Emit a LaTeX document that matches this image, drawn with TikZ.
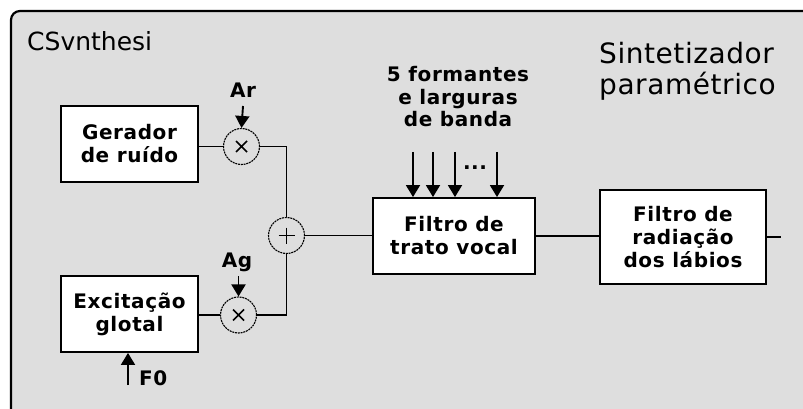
\documentclass[tikz,border=0pt]{standalone}
\usepackage{fontspec}
\setmainfont{DejaVu Sans}
\newfontfamily\lblfont{DejaVu Sans}[LetterSpace=3]
\newfontfamily\headfont{DejaVu Sans}[LetterSpace=2]
\usetikzlibrary{arrows.meta}
\definecolor{panelgray}{RGB}{222,222,222}

\begin{document}
\begin{tikzpicture}[x=1pt,y=-1pt,>={Triangle[length=12pt,width=14pt]},
  blk/.style={draw=black,line width=1.9pt,fill=white,align=center,font=\lblfont\fontsize{20}{23}\selectfont\bfseries,inner sep=0pt},
  op/.style={circle,draw=black,line width=1.1pt,dash pattern=on 2pt off 0.8pt,minimum size=36pt,inner sep=0pt},
  lbl/.style={align=center,font=\lblfont\fontsize{20}{23}\selectfont\bfseries,inner sep=0pt},
  wire/.style={line width=1.9pt}]
\useasboundingbox (0,0) rectangle (803,409);
\draw[line width=2.2pt,fill=panelgray,rounded corners=9pt] (11,11) rectangle (840,440);
\node[anchor=west,inner sep=0pt,font=\fontsize{25}{25}\selectfont] (title) at (27,41) {CSvnthesi};
\node[anchor=west,align=left,inner sep=0pt,font=\headfont\fontsize{28}{31}\selectfont] (synth) at (599,71) {Sintetizador\\paramétrico};
% blocks
\node[blk,minimum width=137pt,minimum height=76pt] (gen) at (129.5,144) {Gerador\\de ruído};
\node[blk,minimum width=137pt,minimum height=76pt] (exc) at (129.5,314) {Excitação\\glotal};
\node[blk,minimum width=162pt,minimum height=76pt] (trato) at (454,236) {Filtro de\\trato vocal};
\node[blk,minimum width=166pt,minimum height=94pt] (rad) at (683,237) {Filtro de\\radiação\\dos lábios};
% operators
\node[op] (mulr) at (241.5,146.5) {};
\node[op] (mulg) at (238.5,315) {};
\node[op] (sum) at (286.5,235.5) {};
\draw[line width=1.6pt] (mulr.center) +(-5.5,-5.5) -- +(5.5,5.5) +(-5.5,5.5) -- +(5.5,-5.5);
\draw[line width=1.6pt] (mulg.center) +(-5.5,-5.5) -- +(5.5,5.5) +(-5.5,5.5) -- +(5.5,-5.5);
\draw[line width=1.3pt] (sum.center) +(-8,0) -- +(8,0) +(0,-8) -- +(0,8);
% labels
\node[lbl] (ar) at (243,90) {Ar};
\node[lbl] (ag) at (237,262) {Ag};
\node[lbl,anchor=west] (f0) at (139,378) {F0};
\node[lbl,font=\lblfont\fontsize{20}{22.5}\selectfont\bfseries] (form) at (458,97) {5 formantes\\e larguras\\de banda};
\node[lbl] (dots) at (475,168) {...};
\coordinate (arin) at (243,106);
\coordinate (agin) at (238.5,276);
\coordinate (f0in) at (128,385);
\coordinate (out) at (781,237);
% connectors
\draw[wire] (gen.east |- mulr.west) -- (mulr.west);
\draw[wire] (exc.east |- mulg.west) -- (mulg.west);
\draw[wire] (mulr.east) -| (sum.north);
\draw[wire] (mulg.east) -| (sum.south);
\draw[wire] (sum.east) -- (sum.east -| trato.west);
\draw[wire] (trato.east) -- (trato.east -| rad.west);
\draw[wire] (rad.east) -- (out);
\draw[wire,->] (arin) -- (mulr.north);
\draw[wire,->] (agin) -- (mulg.north);
\draw[wire,->] (f0in) -- (f0in |- exc.south);
\foreach \x in {413,433,455,497}
  \draw[wire,->] (\x,152) -- (\x,152 |- trato.north);
\end{tikzpicture}
\end{document}
